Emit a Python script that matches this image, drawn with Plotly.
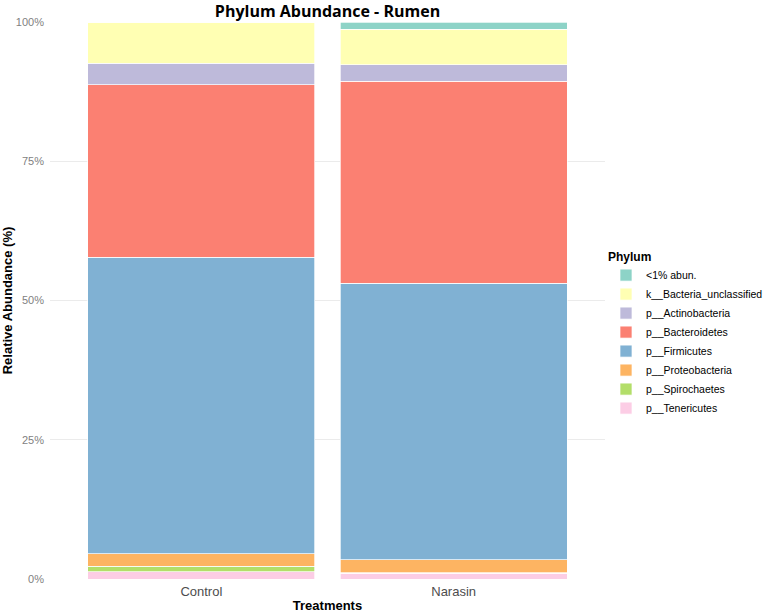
import plotly.graph_objects as go

treatments = ["Control", "Narasin"]
phyla = ["p__Tenericutes", "p__Spirochaetes", "p__Proteobacteria", "p__Firmicutes",
         "p__Bacteroidetes", "p__Actinobacteria", "k__Bacteria_unclassified", "<1% abun."]
colors = ["#FCCDE5", "#B3DE69", "#FDB462", "#80B1D3", "#FB8072", "#BEBADA", "#FFFFB3", "#8DD3C7"]
values = {
    "p__Tenericutes": [1.3, 1.0],
    "p__Spirochaetes": [1.0, 0.1],
    "p__Proteobacteria": [2.2, 2.4],
    "p__Firmicutes": [53.3, 49.6],
    "p__Bacteroidetes": [30.9, 36.3],
    "p__Actinobacteria": [3.9, 2.9],
    "k__Bacteria_unclassified": [7.4, 6.4],
    "<1% abun.": [0.0, 1.3],
}
ytick_vals = [0, 25, 50, 75, 100]
ytick_text = ["0%", "25%", "50%", "75%", "100%"]

fig = go.Figure()
for name, col in zip(phyla, colors):
    fig.add_trace(go.Bar(
        x=treatments, y=values[name], name=name,
        marker=dict(color=col, line=dict(color="white", width=0.7)),
        width=0.9,
    ))

fig.update_layout(
    barmode="stack",
    width=767, height=613,
    margin=dict(l=50, r=162, t=22, b=34, autoexpand=False),
    plot_bgcolor="white", paper_bgcolor="white",
    title=dict(text="<b>Phylum Abundance - Rumen</b>", x=327.5 / 767,
               xanchor="center", y=1 - 11 / 613, yanchor="middle",
               font=dict(family="Open Sans", size=16, color="black")),
    font=dict(family="Liberation Sans", color="#7f7f7f"),
    legend=dict(
        title=dict(text="<b>Phylum</b>", font=dict(size=12, color="black")),
        xref="container", yref="container",
        x=606 / 767, xanchor="left", y=1 - 245 / 613, yanchor="top",
        font=dict(size=10.5, color="black"),
        itemwidth=30,
        traceorder="reversed",
        tracegroupgap=0,
    ),
)
fig.update_xaxes(
    range=[-0.6, 1.6], showgrid=False, ticks="", automargin=False,
    tickfont=dict(size=13, color="#4d4d4d"), ticklabelstandoff=3,
    title=dict(text="<b>Treatments</b>", font=dict(size=13, color="black"), standoff=4),
    zeroline=False,
)
fig.update_yaxes(
    range=[0, 100], tickvals=ytick_vals, ticktext=ytick_text, automargin=False,
    showgrid=True, gridcolor="#EBEBEB", gridwidth=1, zeroline=False,
    tickfont=dict(size=11, color="#7f7f7f"), ticks="", ticklabelstandoff=5,
    title=dict(text="<b>Relative Abundance (%)</b>", font=dict(size=13, color="black"), standoff=6),
)
fig.write_html("out.html")
